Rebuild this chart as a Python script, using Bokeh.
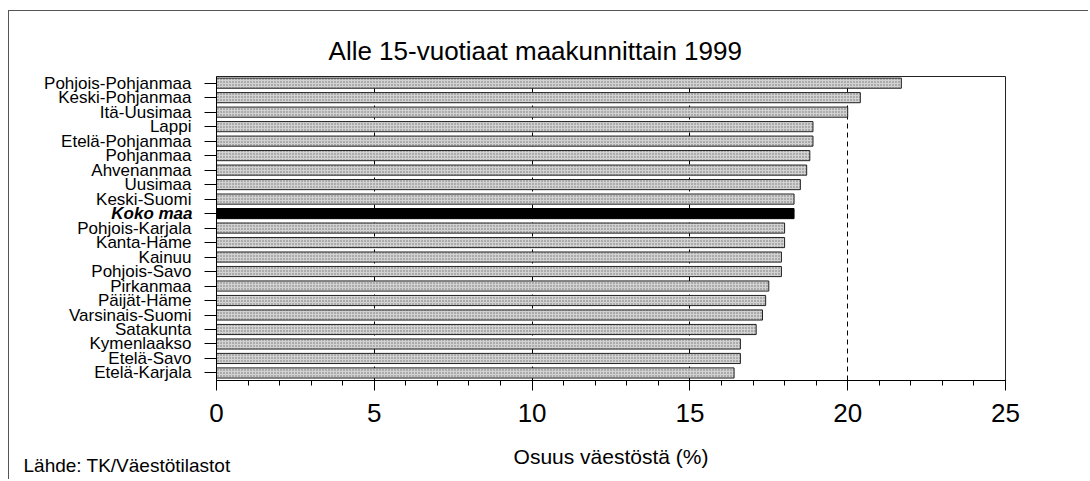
from bokeh.plotting import figure
from bokeh.models import Range1d, FixedTicker, Label, ColumnDataSource
from bokeh.embed import file_html
from bokeh.resources import INLINE

# ---- data ----
regions = ["Pohjois-Pohjanmaa", "Keski-Pohjanmaa", "Itä-Uusimaa", "Lappi",
           "Etelä-Pohjanmaa", "Pohjanmaa", "Ahvenanmaa", "Uusimaa", "Keski-Suomi",
           "Koko maa", "Pohjois-Karjala", "Kanta-Häme", "Kainuu", "Pohjois-Savo",
           "Pirkanmaa", "Päijät-Häme", "Varsinais-Suomi", "Satakunta",
           "Kymenlaakso", "Etelä-Savo", "Etelä-Karjala"]
values = [21.7, 20.4, 20.0, 18.9, 18.9, 18.8, 18.7, 18.5, 18.3, 18.3, 18.0,
          18.0, 17.9, 17.9, 17.5, 17.4, 17.3, 17.1, 16.6, 16.6, 16.4]
highlight = "Koko maa"
x_ticks = [0, 5, 10, 15, 20, 25]
x_minor = list(range(0, 26))
grid_ticks = [5, 10, 15, 20]
title_text = "Alle 15-vuotiaat maakunnittain 1999"
x_label = "Osuus väestöstä (%)"
source_note = "Lähde: TK/Väestötilastot"

FONT = "Liberation Sans"
n = len(regions)
ypos = [n - 1 - i for i in range(n)]

reg = dict(y=[], v=[])
hl = dict(y=[], v=[])
for r, v, y in zip(regions, values, ypos):
    d = hl if r == highlight else reg
    d["y"].append(y)
    d["v"].append(v)

p = figure(width=1080, height=469, output_backend="svg", toolbar_location=None,
           x_range=Range1d(0, 25), y_range=Range1d(-0.52, 20.46),
           min_border_left=207, min_border_right=84, min_border_top=65,
           min_border_bottom=100)
p.styles = {"margin-left": "8px", "margin-top": "10px",
            "border-top": "1px solid #555", "border-left": "1px solid #555"}
p.outline_line_color = "#222"
p.background_fill_color = "white"
p.border_fill_color = "white"

p.hbar(y="y", right="v", left=0, height=0.7, source=ColumnDataSource(reg),
       fill_color="#d2d2d2", hatch_pattern="dot", hatch_color="#6f6f6f",
       hatch_scale=3, line_color="#222", line_width=1)
p.hbar(y="y", right="v", left=0, height=0.7, source=ColumnDataSource(hl),
       fill_color="black", line_color="black", line_width=1)

# x axis
p.xaxis.ticker = FixedTicker(ticks=x_ticks, minor_ticks=x_minor)
p.xaxis.axis_line_color = "black"
p.xaxis.major_tick_out = 10
p.xaxis.major_tick_in = 0
p.xaxis.minor_tick_out = 5
p.xaxis.minor_tick_in = 0
p.xaxis.major_label_text_font = FONT
p.xaxis.major_label_text_font_size = "26px"
p.xaxis.major_label_text_color = "black"
p.xaxis.major_label_standoff = 13
p.xaxis.axis_label = x_label
p.xaxis.axis_label_text_font = FONT
p.xaxis.axis_label_text_font_size = "21px"
p.xaxis.axis_label_text_font_style = "normal"
p.xaxis.axis_label_text_color = "black"
p.xaxis.axis_label_standoff = 20

p.xgrid.ticker = FixedTicker(ticks=grid_ticks)
p.xgrid.grid_line_color = "black"
p.xgrid.grid_line_dash = "5 4"
p.xgrid.grid_line_width = 1
p.ygrid.grid_line_color = None

# y axis
p.yaxis.ticker = FixedTicker(ticks=ypos)
p.yaxis.major_label_overrides = {y: ("" if r == highlight else r) for r, y in zip(regions, ypos)}
p.yaxis.major_tick_out = 12
p.yaxis.major_tick_in = 0
p.yaxis.minor_tick_line_color = None
p.yaxis.axis_line_color = "black"
p.yaxis.major_label_text_font = FONT
p.yaxis.major_label_text_font_size = "17px"
p.yaxis.major_label_text_color = "black"
p.yaxis.major_label_standoff = 13

# Labels placed in side panels (so they are not clipped to the frame);
# their positions are given in data units.
hy = ypos[regions.index(highlight)]
p.add_layout(Label(x=-0.76, y=hy, text=highlight, text_align="right",
                   text_baseline="middle", text_font=FONT, text_font_size="17px",
                   text_font_style="bold italic", text_color="black"), "right")
p.add_layout(Label(x=3.55, y=22.25, text=title_text, text_align="left",
                   text_baseline="alphabetic", text_font=FONT,
                   text_font_size="26px", text_color="black"), "above")
p.add_layout(Label(x=-6.115, y=-6.40, text=source_note, text_align="left",
                   text_baseline="alphabetic", text_font=FONT,
                   text_font_size="19px", text_color="black"), "above")

open("out.html", "w").write(file_html(p, INLINE))
